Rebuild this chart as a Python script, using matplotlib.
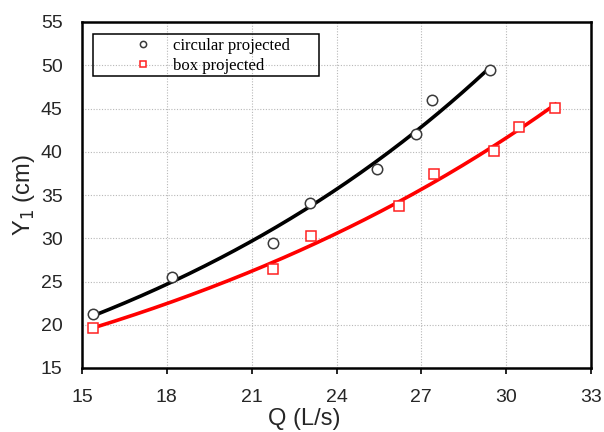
import numpy as np
import matplotlib.pyplot as plt
from matplotlib.patches import Rectangle

# measured flow rate Q (L/s) and depth Y1 (cm)
q_circular = [15.39, 18.18, 21.74, 23.08, 25.42, 26.80, 27.37, 29.43]
y_circular = [21.2, 25.5, 29.4, 34.1, 38.0, 42.1, 46.0, 49.5]
q_box = [15.39, 21.75, 23.09, 26.22, 27.46, 29.58, 30.45, 31.74]
y_box = [19.6, 26.4, 30.3, 33.75, 37.4, 40.1, 42.9, 45.1]

x_ticks = [15, 18, 21, 24, 27, 30, 33]
y_ticks = [15, 20, 25, 30, 35, 40, 45, 50, 55]


# exponential trendline y = a * exp(b q), fitted on log(y)
def expo_fit(q, y):
    b, ln_a = np.polyfit(q, np.log(y), 1)
    qq = np.linspace(min(q), max(q), 200)
    return qq, np.exp(ln_a) * np.exp(b * qq)


fig = plt.figure(figsize=(6.04, 4.32), dpi=100)
ax = fig.add_axes([82 / 604, 64 / 432, 509 / 604, 346 / 432])

qq, yy = expo_fit(q_circular, y_circular)
ax.plot(qq, yy, color='black', lw=2.6, zorder=3)
qq, yy = expo_fit(q_box, y_box)
ax.plot(qq, yy, color='#ff0000', lw=2.6, zorder=3)

ax.plot(q_circular, y_circular, 'o', ms=7.5, mfc='white', mec='#3a3a3a', mew=1.1,
        ls='none', label='circular projected', zorder=4)
ax.plot(q_box, y_box, 's', ms=7.5, mfc='white', mec='#ff2020', mew=1.1,
        ls='none', label='box projected', zorder=4)

ax.set_xlim(15, 33)
ax.set_ylim(15, 55)
ax.set_xticks(x_ticks)
ax.set_yticks(y_ticks)
ax.grid(True, color='#b8b8b8', ls=(0, (1, 1.5)), lw=0.8)
ax.set_axisbelow(True)

for s in ax.spines.values():
    s.set_linewidth(1.8)
ax.tick_params(axis='x', direction='out', length=4, width=1.2, pad=11,
               labelsize=14, labelcolor='#262626')
ax.tick_params(axis='y', length=0, pad=14, labelsize=14, labelcolor='#262626')
for lab in ax.get_xticklabels() + ax.get_yticklabels():
    lab.set_fontfamily('Liberation Sans')

ax.set_xlabel('Q (L/s)', fontsize=17, family='Liberation Sans', color='#262626')
ax.xaxis.set_label_coords(0.436, -0.115)
ax.set_ylabel('Y$_1$ (cm)', fontsize=17, family='Liberation Sans', labelpad=3,
              color='#262626')

# legend box drawn separately so the text sits well inside it
ax.add_patch(Rectangle((0.022, 0.845), 0.444, 0.12, transform=ax.transAxes,
                       fill=False, ec='black', lw=1.1, zorder=5))
leg = ax.legend(loc='upper left', bbox_to_anchor=(0.088, 0.979),
                prop={'family': 'Liberation Serif', 'size': 12},
                frameon=False, borderpad=0, handlelength=1.0,
                handletextpad=1.3, labelspacing=0.27, markerscale=0.6)
leg.set_zorder(6)

fig.savefig('out.png', dpi=100)
